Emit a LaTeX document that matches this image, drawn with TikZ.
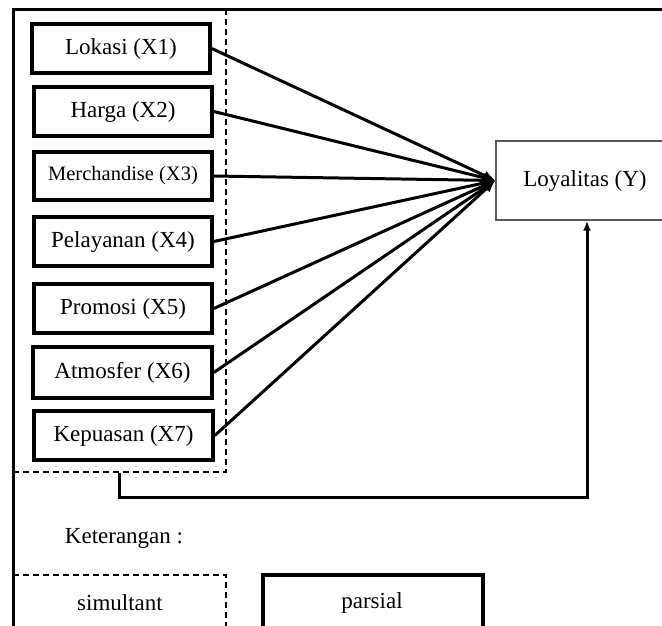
\documentclass[tikz,border=0pt]{standalone}
\usepackage{fontspec}
\setmainfont{Liberation Serif}
\usetikzlibrary{arrows.meta}
\begin{document}
\begin{tikzpicture}[x=1pt,y=-1pt,
  xbox/.style={draw,line width=3.6pt,minimum width=178pt,minimum height=49pt,inner sep=0pt,font=\fontsize{23}{26}\selectfont},
  dashbox/.style={draw,line width=1.8pt,dash pattern=on 6pt off 4pt},
  conn/.style={line width=3pt,-{Latex[length=12pt,width=10pt]}},
  lbl/.style={font=\fontsize{23}{26}\selectfont,inner sep=0pt}]
\useasboundingbox (0,0) rectangle (662,625);
\clip (0,0) rectangle (662,625);
% outer frame
\draw[line width=3pt] (13,9) rectangle (720,720);
% simultaneous dashed group
\node[dashbox,minimum width=213pt,minimum height=463pt,inner sep=0pt] (grp) at (119.5,240.5) {};
% variable boxes
\node[xbox] (x1) at (121,48.5) {Lokasi (X1)};
\node[xbox] (x2) at (123,111.5) {Harga (X2)};
\node[xbox,minimum height=48pt,font=\fontsize{20.5}{24}\selectfont] (x3) at (123,176) {Merchandise (X3)};
\node[xbox] (x4) at (123,241.5) {Pelayanan (X4)};
\node[xbox] (x5) at (123,308.5) {Promosi (X5)};
\node[xbox,minimum width=179pt,minimum height=51pt] (x6) at (122.5,372.5) {Atmosfer (X6)};
\node[xbox,minimum width=179pt] (x7) at (123.5,435.5) {Kepuasan (X7)};
% dependent variable
\node[draw=black!65,line width=1.4pt,minimum width=182pt,minimum height=79pt,inner sep=0pt,font=\fontsize{23}{26}\selectfont] (y) at (587,180.5) {\hspace*{-4pt}Loyalitas (Y)};
% partial connectors
\foreach \i in {1,...,7}{
  \draw[conn] (x\i.east) -- (y.west);
}
% simultaneous connector
\coordinate (bend) at (119.5,497);
\draw[line width=3pt,-{Latex[length=10pt,width=8pt]}] (grp.south) -- (bend) -| (y.south);
% legend
\node[lbl] (ket) at (124,538) {Keterangan :};
\node[dashbox,minimum width=213pt,minimum height=60pt,inner sep=0pt] (sim) at (119.5,605) {};
\node[lbl] (simt) at (120,603) {simultant};
\node[draw,line width=3.6pt,minimum width=220pt,minimum height=60pt,inner sep=0pt] (par) at (373,605) {};
\node[lbl] (part) at (372,603) {parsial};
\end{tikzpicture}
\end{document}
